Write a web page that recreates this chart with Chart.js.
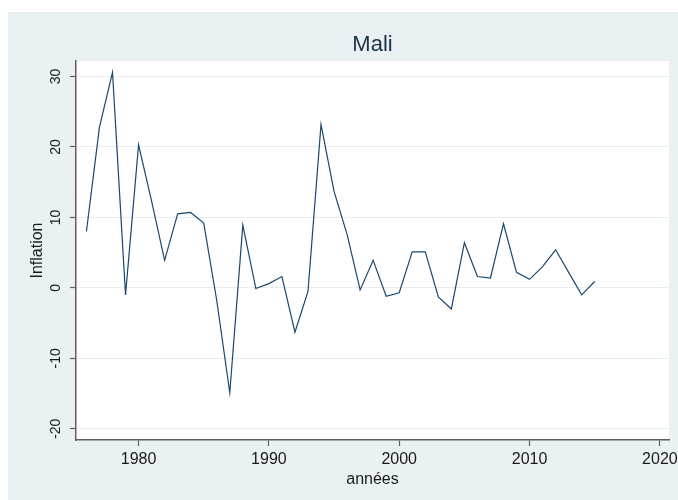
<!DOCTYPE html>
<html>
<head>
<meta charset="utf-8">
<script src="https://cdn.jsdelivr.net/npm/chart.js@4/dist/chart.umd.min.js"></script>
<style>
  html, body { margin: 0; padding: 0; background: #ffffff; }
  #wrap { position: absolute; left: 0; top: 0; width: 678px; height: 500px; }
</style>
</head>
<body>
<div id="wrap"><canvas id="c" width="678" height="500"></canvas></div>
<script>
const years = [1976,1977,1978,1979,1980,1981,1982,1983,1984,1985,1986,1987,1988,1989,1990,1991,1992,1993,1994,1995,1996,1997,1998,1999,2000,2001,2002,2003,2004,2005,2006,2007,2008,2009,2010,2011,2012,2013,2014,2015];
const inflation = [8.0,22.8,30.6,-1.0,20.3,12.3,3.9,10.5,10.7,9.2,-1.8,-14.9,8.9,-0.1,0.6,1.6,-6.3,-0.5,23.2,13.7,7.6,-0.3,3.9,-1.2,-0.7,5.1,5.1,-1.3,-3.0,6.4,1.6,1.4,9.1,2.2,1.2,3.0,5.4,2.2,-1.0,0.9];
const xTicks = [1980,1990,2000,2010,2020];
const yTicks = [-20,-10,0,10,20,30];
const chartTitle = "Mali";
const xTitle = "années";
const yTitle = "Inflation";

const FONT = "'Liberation Sans', Arial, Helvetica, sans-serif";
const AXIS = '#5e5e5e';

const bgPlugin = {
  id: 'bg',
  beforeDraw(chart) {
    const ctx = chart.ctx, a = chart.chartArea;
    ctx.save();
    ctx.fillStyle = '#ffffff';
    ctx.fillRect(0, 0, chart.width, chart.height);
    ctx.fillStyle = '#eaf1f3';
    ctx.fillRect(8, 12, chart.width - 8, chart.height - 12);
    ctx.fillStyle = '#ffffff';
    ctx.fillRect(a.left, a.top, a.right - a.left, a.bottom - a.top);
    ctx.restore();
  }
};

new Chart(document.getElementById('c'), {
  type: 'line',
  data: {
    datasets: [{
      data: years.map((y, i) => ({ x: y, y: inflation[i] })),
      borderColor: '#1a476f',
      borderWidth: 1.2,
      pointRadius: 0,
      tension: 0,
      fill: false
    }]
  },
  options: {
    responsive: false,
    animation: false,
    devicePixelRatio: 1,
    layout: { padding: { left: 0, top: 0, right: 9, bottom: 0 } },
    plugins: {
      legend: { display: false },
      tooltip: { enabled: false },
      title: {
        display: true,
        text: chartTitle,
        fullSize: false,
        color: '#1c2f45',
        font: { family: FONT, size: 22, weight: 'normal', lineHeight: 1.2 },
        padding: { top: 31.5, bottom: 3.1 }
      }
    },
    scales: {
      x: {
        type: 'linear',
        min: 1975.2,
        max: 2020.7,
        afterBuildTicks(scale) { scale.ticks = xTicks.map(v => ({ value: v })); },
        afterFit(scale) { scale.height = 60; scale.paddingLeft = 0; scale.paddingRight = 0; },
        grid: { display: true, drawOnChartArea: false, drawTicks: true, tickLength: 6, tickColor: AXIS, tickWidth: 1.2 },
        border: { display: true, color: AXIS, width: 1.5 },
        ticks: {
          color: '#1a1a1a',
          font: { family: FONT, size: 16 },
          padding: 4,
          maxRotation: 0,
          minRotation: 0,
          callback: v => String(v)
        },
        title: {
          display: true,
          text: xTitle,
          color: '#1a1a1a',
          font: { family: FONT, size: 16 },
          padding: { top: 0, bottom: 10.4 }
        }
      },
      y: {
        type: 'linear',
        min: -21.6,
        max: 32.2,
        afterBuildTicks(scale) { scale.ticks = yTicks.map(v => ({ value: v })); },
        afterFit(scale) { scale.width = 76; scale.paddingTop = 0; scale.paddingBottom = 0; },
        grid: { display: true, drawOnChartArea: true, color: '#e6eef1', lineWidth: 1, drawTicks: true, tickLength: 6, tickColor: AXIS, tickWidth: 1.2 },
        border: { display: true, color: AXIS, width: 1.5 },
        ticks: {
          color: '#1a1a1a',
          font: { family: FONT, size: 14 },
          padding: 4,
          minRotation: 90,
          maxRotation: 90,
          crossAlign: 'center',
          callback: v => String(v)
        },
        title: {
          display: true,
          text: yTitle,
          color: '#1a1a1a',
          font: { family: FONT, size: 16 },
          padding: { top: 28, bottom: 0 }
        }
      }
    }
  },
  plugins: [bgPlugin]
});
</script>
</body>
</html>
